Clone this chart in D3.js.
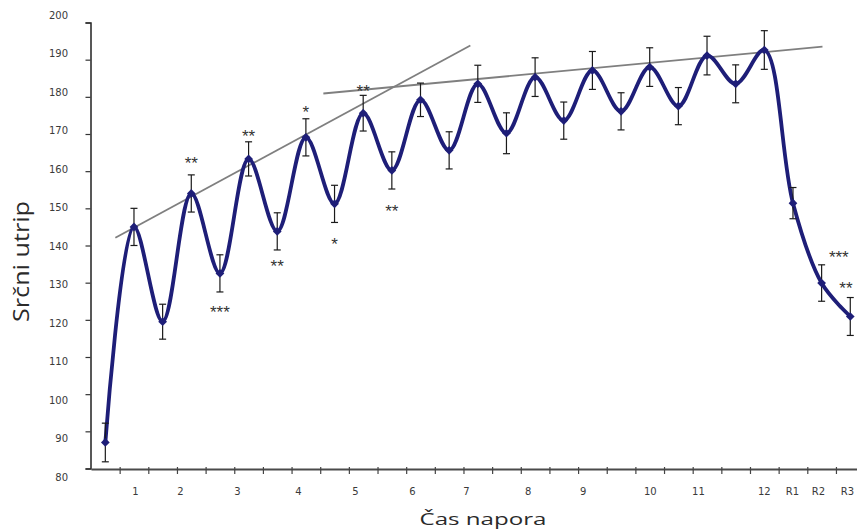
<!DOCTYPE html>
<html>
<head>
<meta charset="utf-8">
<script src="https://cdn.jsdelivr.net/npm/d3@7/dist/d3.min.js"></script>
<style>
  html, body { margin: 0; padding: 0; background: #fff; }
  svg { display: block; }
</style>
</head>
<body>
<svg id="chart" width="857" height="531"></svg>
<script>
// ---- data ----
const values = [87, 145, 119.5, 154, 132.5, 163.3, 143.8, 169.1, 151.2, 175.6, 160.2, 179.2, 165.6, 183.5,
                170.2, 185.3, 173.6, 187.1, 176.1, 188, 177.5, 191.1, 183.5, 192.6, 151.4, 129.9, 120.9];
const errors = [5.2, 5, 4.7, 5, 5, 4.6, 5, 5, 5, 4.8, 5, 4.5, 5, 5,
                5.5, 5.2, 5, 5.1, 5, 5.2, 5, 5.2, 5.1, 5.2, 4.2, 4.9, 5.1];
const yTicks = [80, 90, 100, 110, 120, 130, 140, 150, 160, 170, 180, 190, 200];
const xTickLabels = ["1", "2", "3", "4", "5", "6", "7", "8", "9", "10", "11", "12", "R1", "R2", "R3"];
const xTickAt = [1.05, 2.62, 4.61, 6.74, 8.73, 10.72, 12.6, 14.76, 16.68, 19.02, 20.7, 23.0, 23.98, 24.89, 25.9];
const sigMarks = ["**", "***", "**", "**", "*", "*", "**", "**", "***", "**"];
const sigAt = [3, 4, 5, 6, 7, 8, 9, 10, 25.6, 25.85];
const sigValue = [163.1, 123, 170.4, 135.2, 176.6, 141.1, 182.5, 150.2, 137.8, 129.5];
const trend1 = [[0.35, 142.1], [12.74, 193.8]];
const trend2 = [[7.61, 180.9], [25.03, 193.5]];
const xTitle = "Čas napora";
const yTitle = "Srčni utrip";

// ---- layout ----
const svg = d3.select("#chart");
svg.append("rect").attr("width", 857).attr("height", 531).attr("fill", "#fff");

const x = d3.scaleLinear().domain([-0.5, 26.5]).range([91, 864.6]);
const y = d3.scaleLinear().domain([80, 200]).range([468.5, 22.5]);
const yLabel = d3.scaleLinear().domain([80, 200]).range([477, 15]); // label row is slightly stretched

const navy = "#1e1e78";

// Y axis (ticks only, labels placed separately)
const yAxis = d3.axisLeft(y).tickValues(yTicks).tickSize(5).tickFormat("");
const gy = svg.append("g").attr("transform", "translate(90.5,0)").call(yAxis);
gy.select(".domain").attr("stroke", "#222").attr("stroke-width", 1.5);
gy.selectAll(".tick line").attr("stroke", "#333").attr("stroke-width", 1.2);

svg.append("g").selectAll("text").data(yTicks).join("text")
  .attr("x", 68).attr("y", d => yLabel(d))
  .attr("text-anchor", "end").attr("dominant-baseline", "central")
  .attr("font-family", "DejaVu Sans").attr("font-size", 10)
  .attr("fill", "#3a3a3a").text(d => d);

// X axis: ticks at category boundaries
const boundaries = d3.range(0, 27).map(i => i + 0.5);
const xAxis = d3.axisBottom(x).tickValues(boundaries).tickSize(5).tickFormat("").tickSizeOuter(0);
const gx = svg.append("g").attr("transform", "translate(0,469)").call(xAxis);
gx.select(".domain").attr("stroke", "#4a4a4a").attr("stroke-width", 2);
gx.selectAll(".tick line").attr("stroke", "#444").attr("stroke-width", 1.2).attr("y1", -2);

svg.append("g").selectAll("text").data(xTickLabels).join("text")
  .attr("x", (d, i) => x(xTickAt[i])).attr("y", 491)
  .attr("text-anchor", "middle").attr("dominant-baseline", "central")
  .attr("font-family", "DejaVu Sans").attr("font-size", 10)
  .attr("fill", "#3a3a3a").text(d => d);

// Axis titles
svg.append("text")
  .attr("x", 483).attr("y", 525).attr("text-anchor", "middle")
  .attr("font-family", "Open Sans").attr("font-size", 17).attr("fill", "#2a2a2a")
  .attr("textLength", 127).attr("lengthAdjust", "spacingAndGlyphs")
  .text(xTitle);
svg.append("text")
  .attr("transform", "translate(29,261.5) rotate(-90)")
  .attr("text-anchor", "middle")
  .attr("font-family", "Open Sans").attr("font-size", 22).attr("fill", "#2a2a2a")
  .attr("textLength", 121).attr("lengthAdjust", "spacingAndGlyphs")
  .text(yTitle);

// Trend lines
const tl = d3.line().x(d => x(d[0])).y(d => y(d[1]));
[trend1, trend2].forEach(t => {
  svg.append("path").attr("d", tl(t)).attr("fill", "none")
    .attr("stroke", "#7f7f7f").attr("stroke-width", 1.8);
});

// Main smoothed line
const pts = values.map((v, i) => [i, v]);
const line = d3.line().x(d => x(d[0])).y(d => y(d[1])).curve(d3.curveCatmullRom.alpha(0.5));
svg.append("path").attr("d", line(pts)).attr("fill", "none")
  .attr("stroke", navy).attr("stroke-width", 3.8).attr("stroke-linejoin", "round");

// Error bars
const eb = svg.append("g").attr("stroke", "#1a1a1a").attr("stroke-width", 1.2);
values.forEach((v, i) => {
  const cx = x(i), top = y(v + errors[i]), bot = y(v - errors[i]);
  eb.append("line").attr("x1", cx).attr("x2", cx).attr("y1", top).attr("y2", bot);
  eb.append("line").attr("x1", cx - 3.5).attr("x2", cx + 3.5).attr("y1", top).attr("y2", top);
  eb.append("line").attr("x1", cx - 3.5).attr("x2", cx + 3.5).attr("y1", bot).attr("y2", bot);
});

// Diamond markers
const diamond = d3.symbol().type(d3.symbolSquare).size(38);
svg.append("g").selectAll("path").data(pts).join("path")
  .attr("d", diamond)
  .attr("transform", d => `translate(${x(d[0])},${y(d[1])}) rotate(45)`)
  .attr("fill", navy);

// Significance marks
svg.append("g").selectAll("text").data(sigMarks).join("text")
  .attr("x", (d, i) => x(sigAt[i]))
  .attr("y", (d, i) => y(sigValue[i]) + 9)
  .attr("text-anchor", "middle")
  .attr("font-family", "Liberation Sans").attr("font-size", 17)
  .attr("fill", "#333").text(d => d);
</script>
</body>
</html>
